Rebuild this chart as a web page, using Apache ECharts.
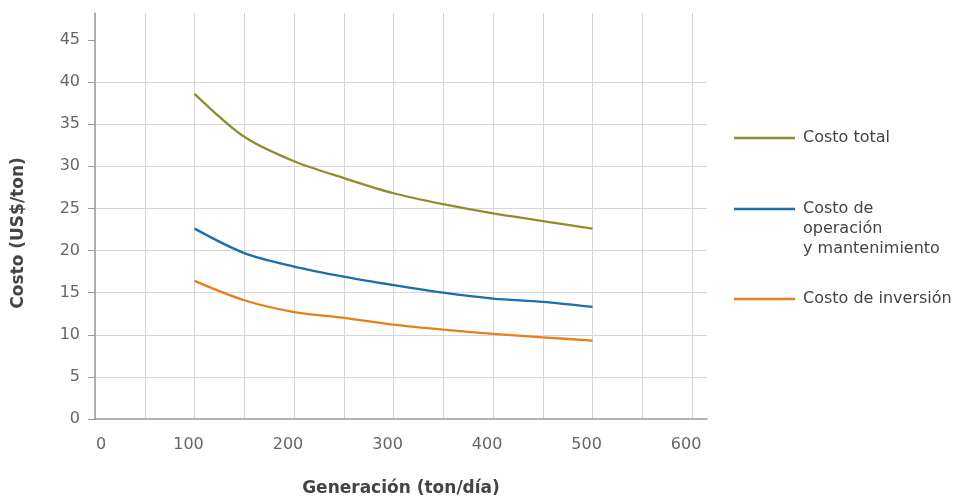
<!DOCTYPE html>
<html>
<head>
<meta charset="utf-8">
<script src="https://cdn.jsdelivr.net/npm/echarts@6/dist/echarts.min.js"></script>
<style>
  html, body { margin: 0; padding: 0; background: #fff; }
  #chart { width: 956px; height: 496px; }
</style>
</head>
<body>
<div id="chart"></div>
<script>
// Generation capacity (ton/day)
const generacion = [100, 150, 200, 250, 300, 350, 400, 450, 500];
// Costs (US$/ton)
const costoTotal = [38.6, 33.5, 30.6, 28.6, 26.8, 25.5, 24.4, 23.5, 22.6];
const costoOyM = [22.6, 19.7, 18.1, 16.9, 15.9, 15.0, 14.3, 13.9, 13.3];
const costoInversion = [16.4, 14.1, 12.7, 12.0, 11.2, 10.6, 10.1, 9.7, 9.3];

const seriesNames = ['Costo total', 'Costo de\noperación\ny mantenimiento', 'Costo de inversión'];
const seriesColors = ['#8f8e2f', '#1b6fae', '#e8801a'];
const seriesValues = [costoTotal, costoOyM, costoInversion];

const xTicks = [0, 100, 200, 300, 400, 500, 600];
const yTicks = [0, 5, 10, 15, 20, 25, 30, 35, 40, 45];

const FONT = 'DejaVu Sans';
const chart = echarts.init(document.getElementById('chart'), null, { renderer: 'canvas' });

// Legend drawn at the right: a short line swatch and the series name
const legendGraphics = [];
const legendY = [138, 209, 299];
seriesNames.forEach((name, i) => {
  legendGraphics.push({
    type: 'line',
    shape: { x1: 734, y1: legendY[i], x2: 795, y2: legendY[i] },
    style: { stroke: seriesColors[i], lineWidth: 2.5 }
  });
  legendGraphics.push({
    type: 'text',
    x: 803,
    y: legendY[i] - 10,
    style: {
      text: name,
      font: '16px "' + FONT + '"',
      fill: '#444',
      lineHeight: 19.8,
      verticalAlign: 'top'
    }
  });
});

chart.setOption({
  animation: false,
  grid: { left: 95, right: 249, top: 13, bottom: 77, outerBoundsMode: 'none' },
  xAxis: {
    type: 'value',
    min: 0,
    max: 615,
    interval: 50,
    name: 'Generación (ton/día)',
    nameLocation: 'middle',
    nameGap: 61,
    nameTextStyle: { fontFamily: FONT, fontSize: 17, fontWeight: 'bold', color: '#444' },
    axisLine: { show: true, lineStyle: { color: '#9a9a9a', width: 1.5 } },
    axisTick: { show: false },
    axisLabel: {
      customValues: xTicks,
      margin: 18,
      fontFamily: FONT,
      fontSize: 16,
      color: '#666',
      formatter: (v) => (v === 0 ? '{z|0}' : '{n|' + v + '}'),
      rich: {
        z: { fontFamily: FONT, fontSize: 16, color: '#666', padding: [0, 0, 0, 12] },
        n: { fontFamily: FONT, fontSize: 16, color: '#666', padding: [0, 12, 0, 0] }
      }
    },
    splitLine: { show: true, showMaxLine: false, lineStyle: { color: '#d6d6dc', width: 1 } }
  },
  yAxis: {
    type: 'value',
    min: 0,
    max: 48.2,
    interval: 5,
    name: 'Costo (US$/ton)',
    nameLocation: 'middle',
    nameGap: 68,
    nameTextStyle: { fontFamily: FONT, fontSize: 17, fontWeight: 'bold', color: '#444', padding: [0, 34, 0, 0] },
    axisLine: { show: true, lineStyle: { color: '#9a9a9a', width: 1.5 } },
    axisTick: { show: true, length: 7, customValues: yTicks, lineStyle: { color: '#9a9a9a' } },
    axisLabel: {
      customValues: yTicks,
      margin: 15,
      fontFamily: FONT,
      fontSize: 16,
      color: '#666'
    },
    splitLine: { show: true, showMaxLine: false, showMinLine: false, lineStyle: { color: '#d6d6dc', width: 1 } }
  },
  series: seriesValues.map((vals, i) => ({
    name: seriesNames[i],
    type: 'line',
    smooth: 0.3,
    symbol: 'none',
    lineStyle: { color: seriesColors[i], width: 2.3 },
    itemStyle: { color: seriesColors[i] },
    data: generacion.map((g, k) => [g, vals[k]])
  })),
  graphic: legendGraphics
});
</script>
</body>
</html>
